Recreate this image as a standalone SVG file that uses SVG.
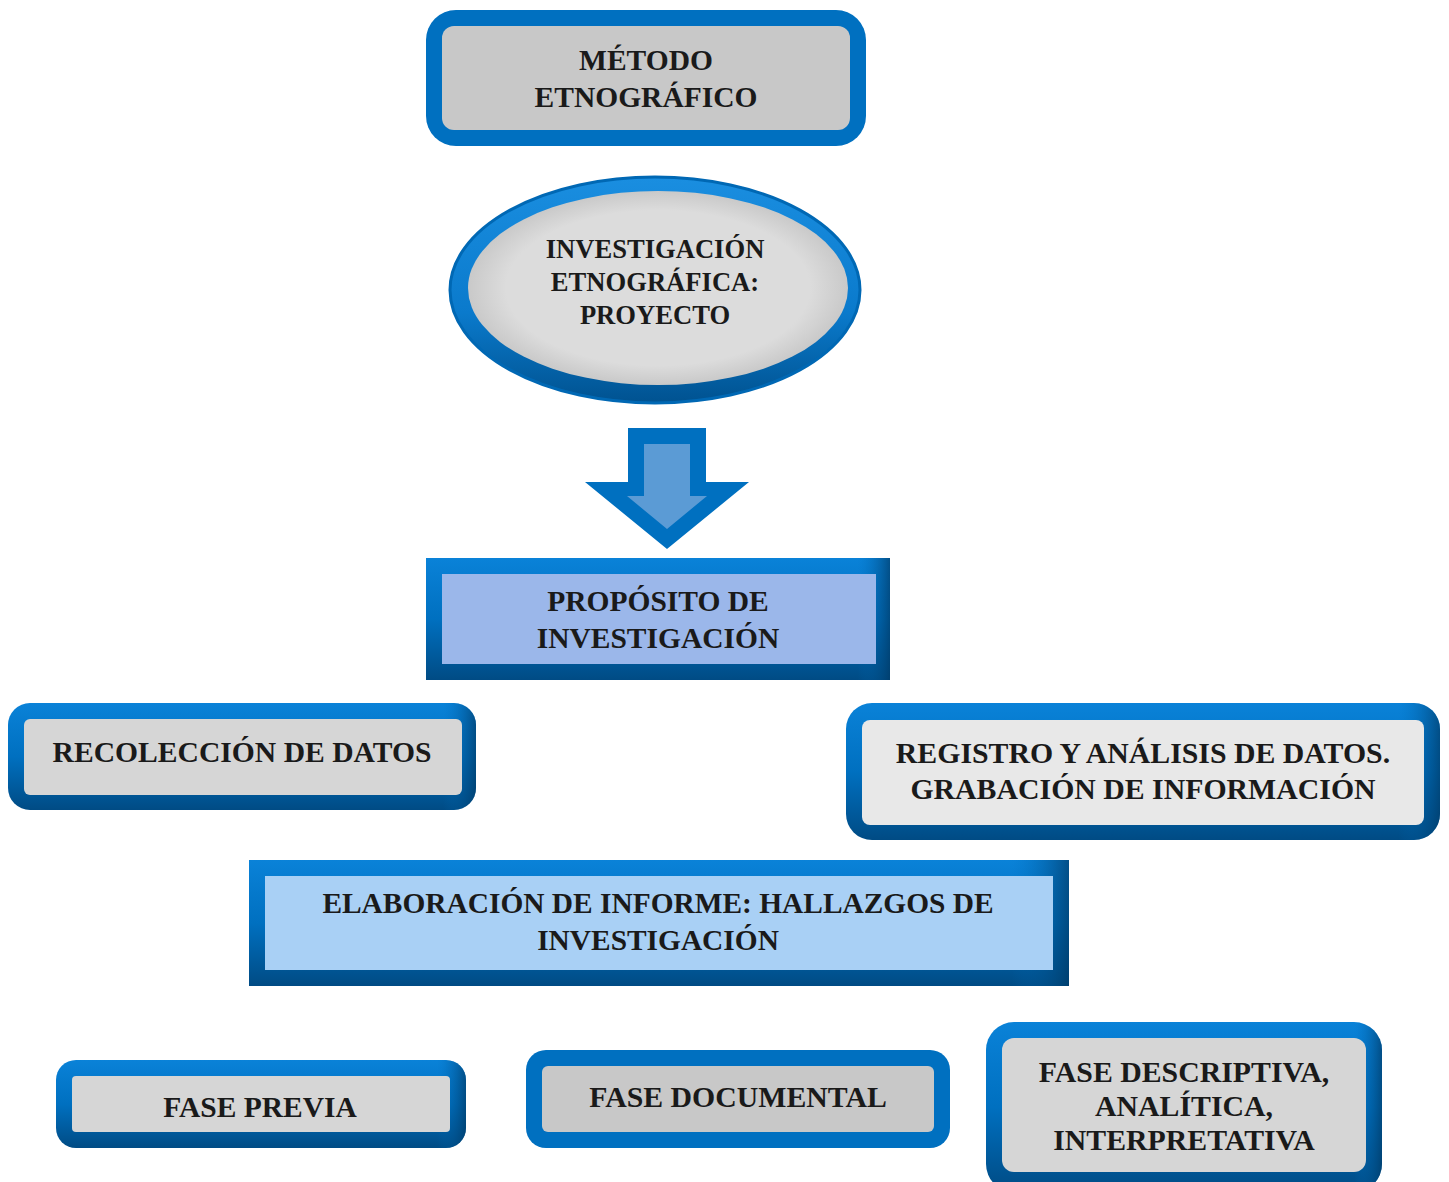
<svg xmlns="http://www.w3.org/2000/svg" width="1449" height="1182" viewBox="0 0 1449 1182">
<style>
  text { font-family: "Liberation Serif", "Times New Roman", serif; font-weight: bold; fill: #1a1a1a; text-anchor: middle; }
  .flat { fill: #0070c0; }
  .grayA { fill: #c8c8c8; }
  .grayB { fill: #d6d6d6; }
</style>
<defs>
  <linearGradient id="bevelV" x1="0" y1="0" x2="0" y2="1">
    <stop offset="0" stop-color="#0a82d8"/>
    <stop offset="0.5" stop-color="#0070c0"/>
    <stop offset="1" stop-color="#004b84"/>
  </linearGradient>
  <linearGradient id="bevelH" x1="0" y1="0" x2="1" y2="0">
    <stop offset="0" stop-color="#0070c0" stop-opacity="0"/>
    <stop offset="0.93" stop-color="#0070c0" stop-opacity="0"/>
    <stop offset="1" stop-color="#003a66" stop-opacity="0.7"/>
  </linearGradient>
  <linearGradient id="ellOuter" x1="0" y1="0" x2="0" y2="1">
    <stop offset="0" stop-color="#1a8ee0"/>
    <stop offset="0.6" stop-color="#0a7acc"/>
    <stop offset="1" stop-color="#005290"/>
  </linearGradient>
  <radialGradient id="ellInner" cx="0.5" cy="0.5" r="0.5">
    <stop offset="0.8" stop-color="#dcdcdc"/>
    <stop offset="1" stop-color="#c9c9c9"/>
  </radialGradient>
</defs>

<g id="metodo">
  <rect class="flat" x="426" y="10" width="440" height="136" rx="30"/>
  <rect class="grayA" x="442" y="26" width="408" height="104" rx="12"/>
  <text x="646" y="70" font-size="29.5">MÉTODO</text>
  <text x="646" y="107" font-size="29.5">ETNOGRÁFICO</text>
</g>

<g id="investigacion">
  <ellipse cx="655" cy="290" rx="205" ry="113" fill="url(#ellOuter)"/>
  <ellipse cx="655" cy="290" rx="205" ry="113" fill="none" stroke="#0068b4" stroke-width="3"/>
  <ellipse cx="658" cy="288" rx="190" ry="97" fill="url(#ellInner)"/>
  <text x="655" y="258" font-size="26.6">INVESTIGACIÓN</text>
  <text x="655" y="291" font-size="26.6">ETNOGRÁFICA:</text>
  <text x="655" y="324" font-size="26.6">PROYECTO</text>
</g>

<g id="connectors">
  <polygon points="628,428 706,428 706,482 749,482 667,549 585,482 628,482" fill="#0070c0"/>
  <polygon points="644,444 690,444 690,496 707,496 667,529 627,496 644,496" fill="#5b9bd5"/>
</g>

<g id="proposito">
  <rect x="426" y="558" width="464" height="122" fill="url(#bevelV)"/>
  <rect x="426" y="558" width="464" height="122" fill="url(#bevelH)"/>
  <rect x="442" y="574" width="434" height="90" fill="#9bb7ea"/>
  <text x="658" y="611" font-size="29.5">PROPÓSITO DE</text>
  <text x="658" y="648" font-size="29.5">INVESTIGACIÓN</text>
</g>

<g id="recoleccion">
  <rect x="8" y="703" width="468" height="107" rx="22" fill="url(#bevelV)"/>
  <rect x="8" y="703" width="468" height="107" rx="22" fill="url(#bevelH)"/>
  <rect x="24" y="719" width="438" height="76" rx="6" class="grayB"/>
  <text x="242" y="762" font-size="29.6">RECOLECCIÓN DE DATOS</text>
</g>

<g id="registro">
  <rect x="846" y="703" width="594" height="137" rx="26" fill="url(#bevelV)"/>
  <rect x="846" y="703" width="594" height="137" rx="26" fill="url(#bevelH)"/>
  <rect x="862" y="720" width="562" height="105" rx="8" fill="#e8e8e8"/>
  <text x="1143" y="763" font-size="29.8">REGISTRO Y ANÁLISIS DE DATOS.</text>
  <text x="1143" y="799" font-size="29.8">GRABACIÓN DE INFORMACIÓN</text>
</g>

<g id="elaboracion">
  <rect x="249" y="860" width="820" height="126" fill="url(#bevelV)"/>
  <rect x="249" y="860" width="820" height="126" fill="url(#bevelH)"/>
  <rect x="265" y="876" width="788" height="94" fill="#a9d0f5"/>
  <text x="658" y="913" font-size="29.4">ELABORACIÓN DE INFORME: HALLAZGOS DE</text>
  <text x="658" y="950" font-size="29.4">INVESTIGACIÓN</text>
</g>

<g id="fase-previa">
  <rect x="56" y="1060" width="410" height="88" rx="20" fill="url(#bevelV)"/>
  <rect x="56" y="1060" width="410" height="88" rx="20" fill="url(#bevelH)"/>
  <rect x="72" y="1076" width="378" height="56" rx="4" class="grayB"/>
  <text x="260" y="1117" font-size="29.5">FASE PREVIA</text>
</g>

<g id="fase-documental">
  <rect class="flat" x="526" y="1050" width="424" height="98" rx="20"/>
  <rect class="grayA" x="542" y="1066" width="392" height="66" rx="6"/>
  <text x="738" y="1107" font-size="29.8">FASE DOCUMENTAL</text>
</g>

<g id="fase-descriptiva">
  <rect x="986" y="1022" width="396" height="170" rx="28" fill="url(#bevelV)"/>
  <rect x="986" y="1022" width="396" height="170" rx="28" fill="url(#bevelH)"/>
  <rect x="1002" y="1038" width="364" height="134" rx="12" class="grayB"/>
  <text x="1184" y="1082" font-size="29.8">FASE DESCRIPTIVA,</text>
  <text x="1184" y="1116" font-size="29.8">ANALÍTICA,</text>
  <text x="1184" y="1150" font-size="29.8">INTERPRETATIVA</text>
</g>
</svg>
